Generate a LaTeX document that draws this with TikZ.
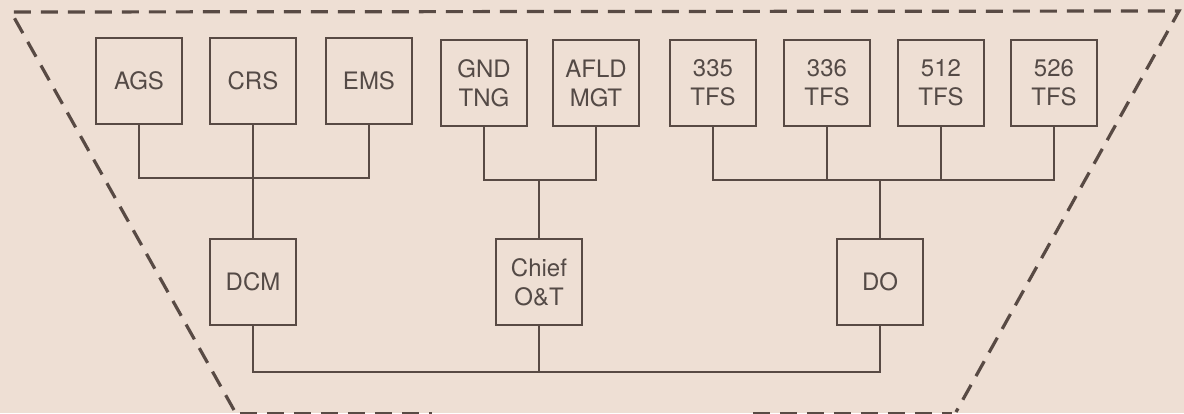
\documentclass[tikz,border=0pt]{standalone}
\usepackage{fontspec}
\setmainfont{TeX Gyre Heros}
\definecolor{paper}{RGB}{238,223,212}
\definecolor{ink}{RGB}{88,74,68}
\definecolor{txt}{RGB}{84,74,70}
\begin{document}
\begin{tikzpicture}[x=1pt,y=-1pt,
  unitbox/.style={draw=ink,line width=1.6pt,minimum width=86pt,minimum height=86pt,inner sep=0pt,
    align=center,text=txt,font=\fontsize{24}{29}\selectfont},
  wire/.style={draw=ink,line width=1.6pt},
  border/.style={draw=ink,line width=3.2pt,dash pattern=on 17pt off 10pt}]
\fill[paper] (0,0) rectangle (1184,413);
\useasboundingbox (0,0) rectangle (1184,413);
\begin{scope}
\clip (0,0) rectangle (1184,413);
% frame
\coordinate (bl) at (234,410);
\coordinate (tl) at (11,12);
\coordinate (tr) at (1179,11);
\coordinate (br) at (956,412);
\draw[border] (bl) -- (tl) -- (tr) -- (br);
\coordinate (b1a) at (240,414);
\coordinate (b1b) at (432,414);
\coordinate (b2a) at (753,414);
\coordinate (b2b) at (952,414);
\draw[border] (b1a) -- (b1b);
\draw[border] (b2a) -- (b2b);
\end{scope}
% top row
\node[unitbox] (ags) at (139,81) {AGS};
\node[unitbox] (crs) at (253,81) {CRS};
\node[unitbox] (ems) at (369,81) {EMS};
\node[unitbox] (gnd) at (484,83) {GND\\TNG};
\node[unitbox] (afld) at (596,83) {AFLD\\MGT};
\node[unitbox] (t335) at (713,83) {335\\TFS};
\node[unitbox] (t336) at (827,83) {336\\TFS};
\node[unitbox] (t512) at (941,83) {512\\TFS};
\node[unitbox] (t526) at (1054,83) {526\\TFS};
% second row
\node[unitbox] (dcm) at (253,282) {DCM};
\node[unitbox] (chief) at (539,282) {Chief\\O\&T};
\node[unitbox] (do) at (880,282) {DO};
% bus coordinates
\coordinate (busA) at (0,178);
\coordinate (busB) at (0,180);
\coordinate (busC) at (0,372);
% group 1
\draw[wire] (ags.south) -- (ags.south |- busA) -- (ems.south |- busA) -- (ems.south);
\draw[wire] (crs.south) -- (dcm.north);
% group 2
\draw[wire] (gnd.south) -- (gnd.south |- busB) -- (afld.south |- busB) -- (afld.south);
\draw[wire] (chief.north |- busB) -- (chief.north);
% group 3
\draw[wire] (t335.south) -- (t335.south |- busB) -- (t526.south |- busB) -- (t526.south);
\draw[wire] (t336.south) -- (t336.south |- busB);
\draw[wire] (t512.south) -- (t512.south |- busB);
\draw[wire] (do.north |- busB) -- (do.north);
% bottom bus
\draw[wire] (dcm.south) -- (dcm.south |- busC) -- (do.south |- busC) -- (do.south);
\draw[wire] (chief.south) -- (chief.south |- busC);
\end{tikzpicture}
\end{document}
